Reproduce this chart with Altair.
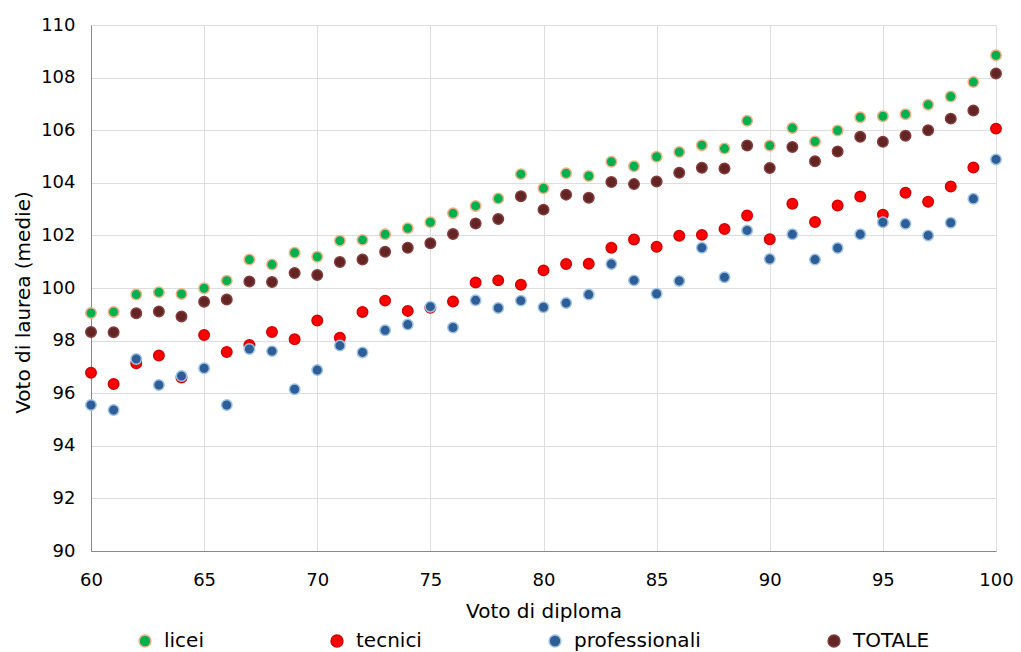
import altair as alt
import pandas as pd

voto_diploma = list(range(60, 101))

licei = [99.05, 99.09, 99.75, 99.84, 99.77, 99.99, 100.28, 101.08, 100.89, 101.34,
         101.19, 101.80, 101.83, 102.04, 102.27, 102.50, 102.84, 103.12, 103.40, 104.33,
         103.79, 104.36, 104.26, 104.80, 104.63, 104.99, 105.17, 105.43, 105.30, 106.36,
         105.42, 106.08, 105.57, 105.99, 106.49, 106.53, 106.61, 106.97, 107.28, 107.83, 108.85]
tecnici = [96.78, 96.35, 97.14, 97.43, 96.60, 98.21, 97.57, 97.83, 98.33, 98.05,
           98.76, 98.11, 99.09, 99.52, 99.13, 99.25, 99.49, 100.21, 100.29, 100.12,
           100.67, 100.91, 100.92, 101.53, 101.84, 101.57, 101.99, 102.02, 102.24, 102.76,
           101.85, 103.20, 102.51, 103.14, 103.48, 102.79, 103.62, 103.28, 103.86, 104.58, 106.06]
professionali = [95.55, 95.36, 97.30, 96.31, 96.65, 96.95, 95.55, 97.68, 97.60, 96.15,
                 96.88, 97.81, 97.55, 98.39, 98.61, 99.29, 98.50, 99.53, 99.24, 99.52,
                 99.27, 99.43, 99.75, 100.91, 100.29, 99.78, 100.27, 101.53, 100.41, 102.19,
                 101.10, 102.04, 101.08, 101.52, 102.04, 102.50, 102.44, 102.00, 102.48, 103.39, 104.89]
totale = [98.33, 98.32, 99.04, 99.11, 98.92, 99.48, 99.56, 100.25, 100.23, 100.57,
          100.49, 100.99, 101.08, 101.38, 101.53, 101.70, 102.05, 102.45, 102.62, 103.49,
          102.98, 103.55, 103.43, 104.03, 103.95, 104.05, 104.38, 104.57, 104.54, 105.42,
          104.56, 105.36, 104.82, 105.19, 105.75, 105.56, 105.79, 106.00, 106.44, 106.75, 108.16]

serie = ["licei", "tecnici", "professionali", "TOTALE"]
fill_colors = ["#00B050", "#FF0000", "#2F5D95", "#632523"]
stroke_colors = ["#F4B183", "#D20000", "#9DC3E6", "#843C3C"]

rows = []
for name, vals in zip(serie, [licei, tecnici, professionali, totale]):
    for xv, yv in zip(voto_diploma, vals):
        rows.append({"diploma": xv, "laurea": yv, "serie": name})
df = pd.DataFrame(rows)
df["ordine"] = df["serie"].map({s: i for i, s in enumerate(serie)})

legend = alt.Legend(
    title=None, orient="none", direction="horizontal",
    legendX=44, legendY=606,
    symbolType="circle", symbolSize=140, symbolStrokeWidth=1.5, symbolOpacity=1,
    labelFontSize=20, labelFont="DejaVu Sans", labelColor="#000000",
    labelOffset=9, columnPadding=123, padding=0,
)

chart = alt.Chart(df).mark_circle(size=110, opacity=1, strokeWidth=1.5).encode(
    x=alt.X("diploma:Q", scale=alt.Scale(domain=[60, 100], nice=False, zero=False),
            axis=alt.Axis(title="Voto di diploma", values=list(range(60, 101, 5)),
                          ticks=False, labelPadding=20, titlePadding=12, labelFlush=False,
                          labelFontSize=18, titleFontSize=20, titleFontWeight="normal")),
    y=alt.Y("laurea:Q", scale=alt.Scale(domain=[90, 110], nice=False, zero=False),
            axis=alt.Axis(title="Voto di laurea (medie)", values=list(range(90, 111, 2)),
                          ticks=False, labelPadding=16, titlePadding=7, labelFlush=False,
                          titleY=277,
                          labelFontSize=18, titleFontSize=20, titleFontWeight="normal")),
    fill=alt.Fill("serie:N", scale=alt.Scale(domain=serie, range=fill_colors), legend=legend),
    stroke=alt.Stroke("serie:N", scale=alt.Scale(domain=serie, range=stroke_colors), legend=legend),
    order=alt.Order("ordine:Q"),
).properties(
    width=905, height=526, autosize="none",
    padding={"left": 83, "top": 17, "right": 17, "bottom": 101},
).configure_axis(
    gridColor="#D9D9D9", gridWidth=1.5, domainColor="#BFBFBF", domainWidth=1.5,
    labelFont="DejaVu Sans", titleFont="DejaVu Sans", labelColor="#000000",
    titleColor="#000000", titleFontWeight="normal",
).configure_view(stroke=None).configure(font="DejaVu Sans")

chart.save("out.html", embed_options={"renderer": "svg", "actions": False})
